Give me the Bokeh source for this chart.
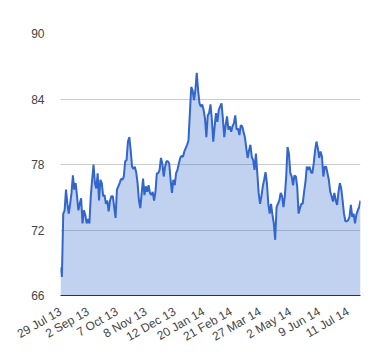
import math
from bokeh.plotting import figure
from bokeh.models import Range1d, FixedTicker, ColumnDataSource
from bokeh.embed import file_html
from bokeh.resources import INLINE

values = [
    68.6, 67.7, 73.5, 73.8, 75.7, 74.4, 73.5, 74.4, 75.4, 77.0,
    75.7, 76.3, 75.1, 73.8, 74.4, 74.9, 72.6, 73.8, 73.4, 72.6,
    73.0, 72.6, 75.1, 76.6, 78.0, 76.3, 75.8, 77.2, 74.7, 76.6,
    76.3, 75.1, 75.2, 74.4, 74.7, 73.7, 74.7, 75.1, 75.1, 74.1,
    73.1, 75.7, 76.0, 76.3, 76.7, 76.6, 76.9, 78.3, 78.4, 80.1,
    80.5, 79.3, 77.8, 77.6, 77.8, 77.3, 76.3, 74.7, 74.0, 75.4,
    76.7, 75.2, 76.0, 75.5, 76.1, 75.4, 75.2, 75.5, 74.7, 75.5,
    77.2, 77.2, 77.5, 78.6, 78.1, 76.9, 77.8, 78.3, 78.3, 78.1,
    76.6, 75.4, 76.6, 76.1, 77.2, 77.5, 78.1, 78.6, 78.8, 78.7,
    79.2, 79.5, 79.8, 80.2, 82.7, 85.1, 84.8, 83.9, 84.8, 86.4,
    84.8, 83.6, 83.3, 83.5, 83.0, 82.2, 80.5,
    82.5, 82.7, 83.5, 82.1, 80.1, 81.5, 82.7, 81.9, 83.0, 83.3,
    83.6, 82.2, 80.5, 81.6, 82.4, 81.2, 81.5, 81.0, 81.5, 81.8,
    82.5, 81.2, 81.3, 80.7, 81.6, 81.5, 81.0, 80.5, 79.5, 78.6,
    79.3, 79.8, 78.7, 78.4, 77.5, 79.0, 77.2, 75.4, 74.4, 75.1,
    76.0, 76.6, 77.3, 76.3, 74.4, 73.5, 74.4, 73.4, 72.6, 71.1,
    74.1, 74.4, 74.7, 75.4, 75.1, 74.1, 75.1, 76.9, 79.6, 79.0,
    77.2, 76.9, 76.1, 77.0, 76.9, 76.0, 73.5, 74.0, 74.4, 74.4,
    75.5, 76.4, 77.8, 77.5, 77.8, 77.3, 77.2, 78.1, 79.3, 80.1,
    79.5, 78.6, 79.2, 78.7, 76.9, 77.8, 77.8, 77.2, 76.6, 75.5,
    75.1, 74.6, 75.4, 74.7, 74.3, 75.5, 76.3, 75.8, 74.7, 73.5,
    72.8, 72.8, 72.9, 73.2, 74.3, 73.2, 73.5, 72.6, 73.4, 73.8,
    74.1, 74.7,
]
index = list(range(len(values)))

tick_labels = ["29 Jul 13", "2 Sep 13", "7 Oct 13", "8 Nov 13", "12 Dec 13",
               "20 Jan 14", "21 Feb 14", "27 Mar 14", "2 May 14", "9 Jun 14",
               "11 Jul 14"]
tick_index = [0, 20, 41, 62, 83, 104, 124, 145, 167, 188, 209]

y_ticks = [66, 72, 78, 84, 90]
y_min, y_max = 66, 90

src = ColumnDataSource(dict(x=index, y=values, base=[y_min] * len(values)))

p = figure(width=372, height=352, output_backend="svg", toolbar_location=None,
           x_range=Range1d(0, len(values) - 1), y_range=Range1d(y_min, y_max),
           min_border_left=60, min_border_right=12, min_border_top=33,
           min_border_bottom=56)
p.outline_line_color = None

p.varea(x="x", y1="base", y2="y", source=src, fill_color="#3366cc", fill_alpha=0.3)
p.line(x="x", y="y", source=src, line_color="#3366cc", line_width=2)

font = "Liberation Sans"
p.yaxis.ticker = FixedTicker(ticks=y_ticks)
p.yaxis.axis_line_color = None
p.yaxis.major_tick_line_color = None
p.yaxis.minor_tick_line_color = None
p.yaxis.major_label_text_font = font
p.yaxis.major_label_text_font_size = "12px"
p.yaxis.major_label_text_color = "#444444"
p.yaxis.major_label_standoff = 10

p.xaxis.ticker = FixedTicker(ticks=tick_index)
p.xaxis.major_label_overrides = {i: l for i, l in zip(tick_index, tick_labels)}
p.xaxis.major_label_orientation = math.pi / 6
p.xaxis.axis_line_color = "#333333"
p.xaxis.axis_line_width = 1
p.xaxis.major_tick_line_color = None
p.xaxis.minor_tick_line_color = None
p.xaxis.major_label_text_font = font
p.xaxis.major_label_text_font_size = "12px"
p.xaxis.major_label_text_color = "#444444"
p.xaxis.major_label_standoff = 9

p.xgrid.grid_line_color = None
p.ygrid.grid_line_color = "#cccccc"
p.ygrid.grid_line_width = 1

open("out.html", "w").write(file_html(p, INLINE))
